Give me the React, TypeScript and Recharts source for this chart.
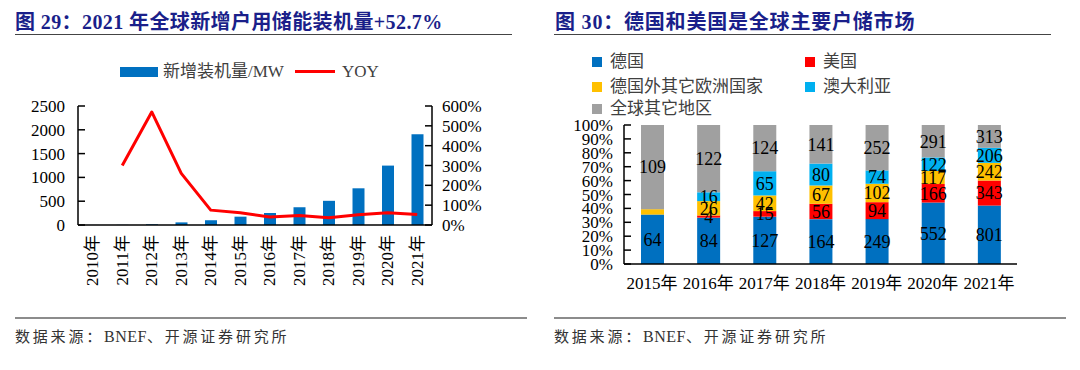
import React from 'react';
import { ComposedChart, BarChart, Bar, Line, XAxis, YAxis, LabelList } from 'recharts';

const FONT = "'Liberation Serif', 'Times New Roman', 'Noto Sans CJK SC', serif";
const TITLE_COLOR = '#1a1f8a';

// ---- Chart 29 data ----
const years = ['2010年', '2011年', '2012年', '2013年', '2014年', '2015年', '2016年', '2017年', '2018年', '2019年', '2020年', '2021年'];
const newCapacity = [1, 3, 15, 55, 100, 175, 252, 373, 508, 771, 1248, 1905];
const yoy = [null, 3.0, 5.7, 2.6, 0.75, 0.62, 0.40, 0.48, 0.36, 0.52, 0.62, 0.527];
const capacityTicks = [0, 500, 1000, 1500, 2000, 2500];
const yoyTicks = [0, 1, 2, 3, 4, 5, 6];

// ---- Chart 30 data ----
const marketYears = ['2015年', '2016年', '2017年', '2018年', '2019年', '2020年', '2021年'];
const germany = [64, 84, 127, 164, 249, 552, 801];
const usa = [0, 4, 15, 56, 94, 166, 343];
const otherEurope = [7, 26, 42, 67, 102, 117, 242];
const australia = [0, 16, 65, 80, 74, 122, 206];
const restOfWorld = [109, 122, 124, 141, 252, 291, 313];
const usaLabels = ['', '4', '15', '56', '94', '166', '343'];
const otherEuropeLabels = ['', '26', '42', '67', '102', '117', '242'];
const australiaLabels = ['', '16', '65', '80', '74', '122', '206'];
const pctTicks = [0, 0.1, 0.2, 0.3, 0.4, 0.5, 0.6, 0.7, 0.8, 0.9, 1];

const seriesNames = {
  de: '德国',
  us: '美国',
  eu: '德国外其它欧洲国家',
  au: '澳大利亚',
  rest: '全球其它地区',
};
const colors = {
  de: '#0070c0',
  us: '#ff0000',
  eu: '#ffc000',
  au: '#00b0f0',
  rest: '#a0a0a0',
};

const chart29Data = years.map((y, i) => ({ year: y, cap: newCapacity[i], yoy: yoy[i] }));
const chart29Bounds = years.map((_, i) => i + 1);

const chart30Data = marketYears.map((y, i) => ({
  year: y,
  de: germany[i],
  us: usa[i],
  eu: otherEurope[i],
  au: australia[i],
  rest: restOfWorld[i],
  usLabel: usaLabels[i],
  euLabel: otherEuropeLabels[i],
  auLabel: australiaLabels[i],
}));
const chart30Bounds = marketYears.map((_, i) => i + 1);

const RotatedTick = (props: any) => {
  const { x, y, payload } = props;
  return (
    <text
      x={0}
      y={0}
      transform={`translate(${x},${y}) rotate(-90)`}
      textAnchor="end"
      dominantBaseline="central"
      fontSize={17}
      fill="#000"
      fontFamily={FONT}
    >
      {payload.value}
    </text>
  );
};

const axisStyle = { stroke: '#000', strokeWidth: 1.5 };
const tickLineStyle = { stroke: '#000', strokeWidth: 1.5 };
const tickText = { fontSize: 17, fill: '#000', fontFamily: FONT };
const labelStyle = { fontSize: 18, fill: '#000', fontFamily: FONT };

const Chart29 = () => (
  <ComposedChart
    width={540}
    height={300}
    data={chart29Data}
    margin={{ top: 106, right: 48, bottom: 15, left: 18 }}
    style={{ position: 'absolute', left: 0, top: 0 }}
  >
    <XAxis
      xAxisId="bounds"
      type="number"
      domain={[0, years.length]}
      ticks={chart29Bounds}
      axisLine={false}
      tick={false}
      tickLine={tickLineStyle}
      tickSize={-7}
      height={0}
    />
    <XAxis
      dataKey="year"
      xAxisId="cat"
      axisLine={axisStyle}
      tickLine={false}
      tickSize={0}
      tickMargin={10}
      interval={0}
      height={60}
      tick={<RotatedTick />}
    />
    <YAxis
      yAxisId="left"
      domain={[0, 2500]}
      ticks={capacityTicks}
      axisLine={axisStyle}
      tickLine={tickLineStyle}
      tickSize={-7}
      tickMargin={20}
      width={60}
      tick={tickText}
      interval={0}
    />
    <YAxis
      yAxisId="right"
      orientation="right"
      domain={[0, 6]}
      ticks={yoyTicks}
      axisLine={axisStyle}
      tickLine={tickLineStyle}
      tickSize={-7}
      tickMargin={17}
      width={60}
      tick={tickText}
      interval={0}
      tickFormatter={(v: number) => `${Math.round(v * 100)}%`}
    />
    <Bar dataKey="cap" xAxisId="cat" yAxisId="left" fill="#0070c0" barSize={12} isAnimationActive={false} />
    <Line
      dataKey="yoy"
      xAxisId="cat"
      yAxisId="right"
      type="linear"
      stroke="#ff0000"
      strokeWidth={3}
      strokeLinejoin="round"
      dot={false}
      activeDot={false}
      isAnimationActive={false}
    />
  </ComposedChart>
);

const Chart30 = () => (
  <BarChart
    width={540}
    height={300}
    data={chart30Data}
    stackOffset="expand"
    margin={{ top: 125, right: 63, bottom: 6, left: 14 }}
    style={{ position: 'absolute', left: 540, top: 0 }}
  >
    <XAxis
      xAxisId="bounds"
      type="number"
      domain={[0, marketYears.length]}
      ticks={chart30Bounds}
      axisLine={false}
      tick={false}
      tickLine={tickLineStyle}
      tickSize={-7}
      height={0}
    />
    <XAxis
      dataKey="year"
      xAxisId="cat"
      axisLine={axisStyle}
      tickLine={false}
      tickSize={0}
      tickMargin={13}
      interval={0}
      height={30}
      tick={tickText}
    />
    <YAxis
      domain={[0, 1]}
      ticks={pctTicks}
      axisLine={axisStyle}
      tickLine={tickLineStyle}
      tickSize={-7}
      tickMargin={18}
      width={70}
      tick={tickText}
      interval={0}
      tickFormatter={(v: number) => `${Math.round(v * 100)}%`}
    />
    <Bar dataKey="de" xAxisId="cat" stackId="a" fill={colors.de} barSize={23} isAnimationActive={false}>
      <LabelList dataKey="de" position="center" style={labelStyle} />
    </Bar>
    <Bar dataKey="us" xAxisId="cat" stackId="a" fill={colors.us} barSize={23} isAnimationActive={false}>
      <LabelList dataKey="usLabel" position="center" style={labelStyle} />
    </Bar>
    <Bar dataKey="eu" xAxisId="cat" stackId="a" fill={colors.eu} barSize={23} isAnimationActive={false}>
      <LabelList dataKey="euLabel" position="center" style={labelStyle} />
    </Bar>
    <Bar dataKey="au" xAxisId="cat" stackId="a" fill={colors.au} barSize={23} isAnimationActive={false}>
      <LabelList dataKey="auLabel" position="center" style={labelStyle} />
    </Bar>
    <Bar dataKey="rest" xAxisId="cat" stackId="a" fill={colors.rest} barSize={23} isAnimationActive={false}>
      <LabelList dataKey="rest" position="center" style={labelStyle} />
    </Bar>
  </BarChart>
);

const abs = (s: React.CSSProperties): React.CSSProperties => ({ position: 'absolute', whiteSpace: 'nowrap', ...s });

const LegendSquare = ({ left, top, color, text }: { left: number; top: number; color: string; text: string }) => (
  <>
    <div style={abs({ left, top: top - 5, width: 10, height: 10, background: color })} />
    <div style={abs({ left: left + 18, top: top - 12, height: 24, lineHeight: '24px', fontSize: 17, color: '#404040' })}>{text}</div>
  </>
);

const Source = ({ left }: { left: number }) => (
  <div style={abs({ left, top: 326, lineHeight: '22px', fontSize: 15, color: '#333' })}>
    <span style={{ letterSpacing: 2.8 }}>数据来源：</span>
    <span style={{ letterSpacing: 0.5, fontSize: 16 }}>BNEF</span>
    <span style={{ letterSpacing: 2.8 }}>、开源证券研究所</span>
  </div>
);

export default function App() {
  return (
    <div
      style={{
        position: 'fixed',
        left: 0,
        top: 0,
        width: 1080,
        height: 370,
        background: '#fff',
        fontFamily: FONT,
        overflow: 'hidden',
      }}
    >
      {/* titles */}
      <div style={abs({ left: 15, top: 8, lineHeight: '28px', fontSize: 20, letterSpacing: 0.4, fontWeight: 'bold', color: TITLE_COLOR })}>
        图 29：2021 年全球新增户用储能装机量+52.7%
      </div>
      <div style={abs({ left: 15, top: 34, width: 497, height: 1, background: '#444' })} />
      <div style={abs({ left: 555, top: 8, lineHeight: '28px', fontSize: 20, letterSpacing: 0.8, fontWeight: 'bold', color: TITLE_COLOR })}>
        图 30：德国和美国是全球主要户储市场
      </div>
      <div style={abs({ left: 554, top: 34, width: 497, height: 1, background: '#444' })} />

      {/* chart 29 legend */}
      <div style={abs({ left: 120, top: 67, width: 38, height: 10, background: '#0070c0' })} />
      <div style={abs({ left: 163, top: 60, lineHeight: '24px', fontSize: 17, color: '#404040' })}>新增装机量/MW</div>
      <div style={abs({ left: 295, top: 70, width: 40, height: 3, background: '#ff0000' })} />
      <div style={abs({ left: 342, top: 60, lineHeight: '24px', fontSize: 17, color: '#404040' })}>YOY</div>

      {/* chart 30 legend */}
      <LegendSquare left={592} top={62} color={colors.de} text={seriesNames.de} />
      <LegendSquare left={805} top={62} color={colors.us} text={seriesNames.us} />
      <LegendSquare left={592} top={87} color={colors.eu} text={seriesNames.eu} />
      <LegendSquare left={805} top={87} color={colors.au} text={seriesNames.au} />
      <LegendSquare left={592} top={109} color={colors.rest} text={seriesNames.rest} />

      <Chart29 />
      <Chart30 />

      {/* footers */}
      <div style={abs({ left: 15, top: 317, width: 512, height: 2, background: '#8c8c8c' })} />
      <Source left={15} />
      <div style={abs({ left: 554, top: 317, width: 512, height: 2, background: '#8c8c8c' })} />
      <Source left={554} />
    </div>
  );
}
